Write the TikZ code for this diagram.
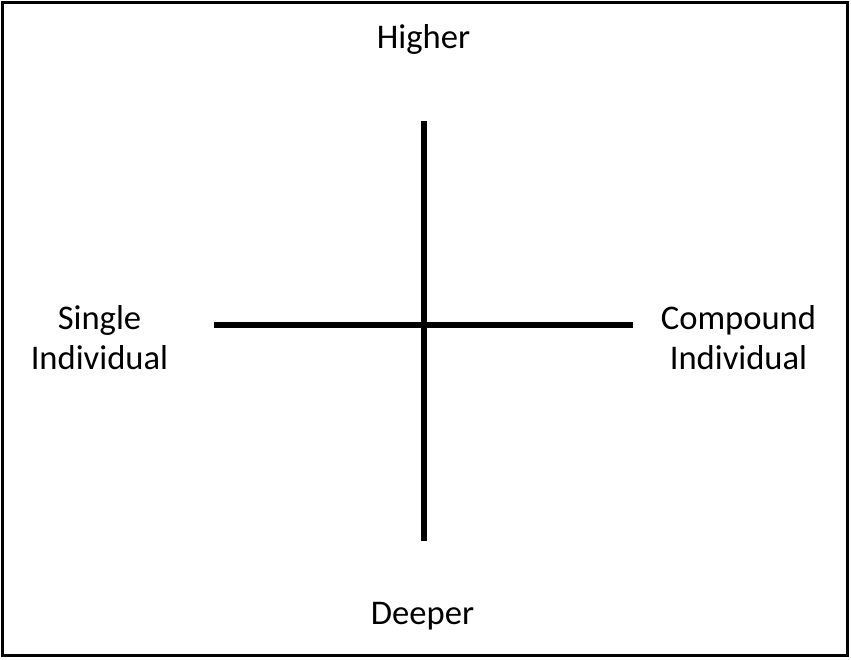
\documentclass[tikz,border=0pt]{standalone}
\usepackage{fontspec}
\setmainfont{Carlito}
\begin{document}
\begin{tikzpicture}[x=1pt,y=-1pt,
  axis/.style={line width=6pt},
  lbl/.style={font=\fontsize{34.6}{40}\selectfont, inner sep=0pt, align=center, anchor=base}]
\useasboundingbox (0,0) rectangle (851,659);
\draw[line width=3pt] (2.5,2.5) rectangle (847.5,655.5);
\coordinate (top) at (424,121);
\coordinate (bot) at (424,541);
\coordinate (lft) at (214,324.5);
\coordinate (rgt) at (633,324.5);
\draw[axis] (top) -- (bot);
\draw[axis] (lft) -- (rgt);
\node[lbl] (higher) at (423.5,48) {Higher};
\node[lbl] (deeper) at (422.5,624) {Deeper};
\node[lbl] (single) at (99.5,369) {Single\\Individual};
\node[lbl] (compound) at (738.5,369) {Compound\\Individual};
\end{tikzpicture}
\end{document}
